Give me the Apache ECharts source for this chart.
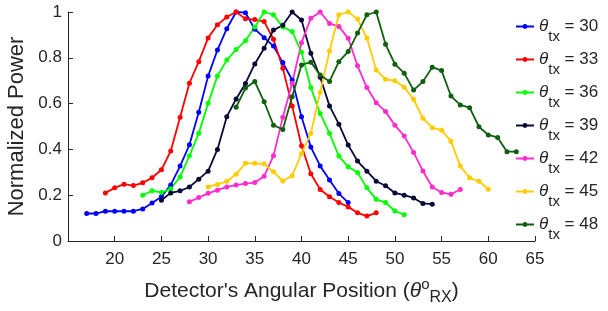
<!DOCTYPE html>
<html>
<head>
<meta charset="utf-8">
<script src="https://cdn.jsdelivr.net/npm/echarts@6/dist/echarts.min.js"></script>
<style>
  html, body { margin: 0; padding: 0; background: #fff; }
  #chart { width: 608px; height: 311px; }
</style>
</head>
<body>
<div id="chart"></div>
<script>
// detector angle positions (deg)
const angles = [17,18,19,20,21,22,23,24,25,26,27,28,29,30,31,32,33,34,35,36,37,38,39,40,
  41,42,43,44,45,46,47,48,49,50,51,52,53,54,55,56,57,58,59,60,61,62,63]

const txLabels = ['30','33','36','39','42','45','48']
const startAngles = [17, 19, 23, 25, 28, 30, 33]

const p30 = [0.12,0.12,0.13,0.13,0.13,0.13,0.14,0.166,0.193,0.245,0.327,0.42,0.562,0.72,
  0.834,0.927,1.0,0.997,0.925,0.888,0.851,0.779,0.703,0.543,0.41,0.328,0.266,0.207,0.168]
const p33 = [0.21,0.232,0.248,0.242,0.254,0.276,0.311,0.393,0.54,0.689,0.783,0.887,0.944,0.978,
  1.0,0.97,0.967,0.958,0.881,0.754,0.59,0.416,0.294,0.225,0.193,0.168,0.149,0.123,0.109,0.123]
const p36 = [0.2,0.219,0.212,0.228,0.28,0.372,0.47,0.601,0.721,0.79,0.836,0.874,0.934,1.0,
  0.988,0.934,0.915,0.824,0.67,0.557,0.47,0.371,0.324,0.299,0.232,0.182,0.168,0.131,0.115]
const p39 = [0.178,0.21,0.219,0.236,0.27,0.305,0.4,0.543,0.62,0.688,0.773,0.842,0.921,0.942,
  1.0,0.965,0.82,0.715,0.59,0.51,0.419,0.349,0.305,0.261,0.241,0.21,0.2,0.188,0.164,0.161]
const p42 = [0.171,0.19,0.208,0.222,0.236,0.244,0.251,0.255,0.283,0.372,0.54,0.689,0.866,0.973,
  1.0,0.95,0.937,0.885,0.765,0.67,0.604,0.565,0.506,0.458,0.387,0.306,0.236,0.212,0.204,0.225]
const p45 = [0.236,0.247,0.261,0.292,0.339,0.339,0.337,0.302,0.262,0.285,0.382,0.47,0.65,0.83,
  0.988,1.0,0.969,0.886,0.747,0.706,0.7,0.671,0.619,0.536,0.495,0.484,0.436,0.327,0.276,0.261,0.226]
const p48 = [0.584,0.668,0.696,0.608,0.506,0.487,0.63,0.769,0.781,0.725,0.697,0.783,0.827,0.908,
  0.988,1.0,0.859,0.772,0.733,0.659,0.696,0.759,0.744,0.633,0.594,0.582,0.499,0.463,0.452,0.39,0.39]

const powers = [p30, p33, p36, p39, p42, p45, p48]
const colors = ['#0000ff', '#ff0000', '#00ff00', '#0a0a38', '#ff2ccc', '#ffcc00', '#0f5f0f']

const textColor = '#262626'

let series = []
for (let i = 0; i < powers.length; i++) {
  let xs = angles.slice(angles.indexOf(startAngles[i]))
  series.push({
    name: txLabels[i],
    type: 'line',
    data: powers[i].map((v, k) => [xs[k], v]),
    symbol: 'circle',
    symbolSize: 5,
    lineStyle: { width: 1.8, color: colors[i] },
    itemStyle: { color: colors[i] },
    emphasis: { disabled: true },
    animation: false
  })
}

let myChart = echarts.init(document.getElementById('chart'))
myChart.setOption({
  animation: false,
  grid: { left: 68, right: 73, top: 12, bottom: 70, outerBoundsMode: 'none', containLabel: false },
  legend: {
    orient: 'vertical',
    left: 515,
    top: 12,
    padding: 0,
    itemWidth: 18,
    itemHeight: 6,
    itemGap: 1,
    itemStyle: { borderWidth: 0 },
    data: txLabels,
    formatter: name => '{t|θ}{s|tx}{n| = ' + name + '}',
    textStyle: {
      color: textColor,
      fontFamily: 'Liberation Sans',
      rich: {
        t: { fontSize: 17, fontStyle: 'italic', lineHeight: 29, verticalAlign: 'middle', color: textColor },
        s: { fontSize: 15, lineHeight: 12, verticalAlign: 'top', color: textColor, padding: [17, 0, 0, 0] },
        n: { fontSize: 17, lineHeight: 29, verticalAlign: 'middle', color: textColor }
      }
    }
  },
  xAxis: {
    type: 'value',
    min: 15,
    max: 65,
    interval: 5,
    name: "Detector's Angular Position ({th|θ}{sup|o}{sub|RX})",
    nameLocation: 'middle',
    nameGap: 36,
    nameTextStyle: {
      fontFamily: 'Liberation Sans',
      fontSize: 21,
      color: textColor,
      rich: {
        th: { fontSize: 21, fontStyle: 'italic', color: textColor },
        sup: { fontSize: 15, color: textColor, padding: [0, 0, 14, 0] },
        sub: { fontSize: 16, color: textColor, padding: [13, 0, 0, 0] }
      }
    },
    axisLine: { lineStyle: { color: textColor, width: 1 } },
    axisTick: { inside: true, length: 5, lineStyle: { color: textColor } },
    axisLabel: {
      color: textColor,
      fontFamily: 'Liberation Sans',
      fontSize: 17,
      margin: 10,
      formatter: v => (v === 15 ? '' : String(v))
    },
    splitLine: { show: false }
  },
  yAxis: {
    type: 'value',
    min: 0,
    max: 1,
    interval: 0.2,
    name: 'Normalized Power',
    nameLocation: 'middle',
    nameGap: 37,
    nameTextStyle: { fontFamily: 'Liberation Sans', fontSize: 22, color: textColor },
    axisLine: { show: true, lineStyle: { color: textColor, width: 1 } },
    axisTick: { show: true, inside: true, length: 5, lineStyle: { color: textColor } },
    axisLabel: {
      color: textColor,
      fontFamily: 'Liberation Sans',
      fontSize: 17,
      margin: 6,
      formatter: v => String(Math.round(v * 10) / 10)
    },
    splitLine: { show: false }
  },
  series: series
})
</script>
</body>
</html>
